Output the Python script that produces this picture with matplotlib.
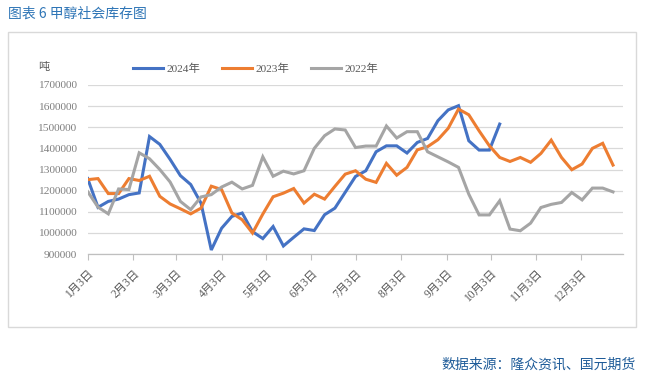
import matplotlib
matplotlib.use("Agg")
import matplotlib.pyplot as plt
from matplotlib.patches import Rectangle
import pandas as pd

# ---- data ----
series_names = ["2024年", "2023年", "2022年"]
v2024 = [1257000, 1121000, 1149000, 1160000, 1181000, 1189000, 1456000, 1419000, 1348000, 1271000,
         1229000, 1141000, 919000, 1022000, 1078000, 1094000, 1006000, 973000, 1030000, 938000,
         979000, 1019000, 1011000, 1086000, 1117000, 1192000, 1267000, 1294000, 1384000, 1412000,
         1412000, 1378000, 1428000, 1447000, 1531000, 1582000, 1602000, 1436000, 1392000, 1392000,
         1515000]
v2023 = [1252000, 1257000, 1186000, 1186000, 1257000, 1248000, 1268000, 1173000, 1137000, 1114000,
         1090000, 1117000, 1221000, 1205000, 1094000, 1062000, 999000, 1089000, 1171000, 1188000,
         1210000, 1141000, 1183000, 1160000, 1220000, 1278000, 1294000, 1254000, 1239000, 1329000,
         1273000, 1310000, 1393000, 1408000, 1441000, 1495000, 1586000, 1559000, 1483000, 1412000,
         1357000, 1338000, 1357000, 1334000, 1376000, 1439000, 1357000, 1299000, 1326000, 1400000,
         1424000, 1321000]
v2022 = [1195000, 1122000, 1090000, 1208000, 1205000, 1379000, 1351000, 1300000, 1241000, 1149000,
         1110000, 1170000, 1181000, 1217000, 1240000, 1208000, 1225000, 1360000, 1268000, 1292000,
         1279000, 1294000, 1400000, 1460000, 1492000, 1487000, 1404000, 1411000, 1411000, 1506000,
         1449000, 1479000, 1479000, 1384000, 1360000, 1336000, 1310000, 1183000, 1085000, 1085000,
         1152000, 1018000, 1010000, 1046000, 1120000, 1135000, 1144000, 1191000, 1156000, 1212000,
         1212000, 1194000]
week_dates = pd.date_range("2024-01-03", periods=52, freq="7D")
tick_dates = pd.date_range("2024-01-01", periods=12, freq="MS") + pd.Timedelta(days=2)
tick_labels = ["1月3日", "2月3日", "3月3日", "4月3日", "5月3日", "6月3日",
               "7月3日", "8月3日", "9月3日", "10月3日", "11月3日", "12月3日"]
y_ticks = [900000, 1000000, 1100000, 1200000, 1300000, 1400000, 1500000, 1600000, 1700000]

colors = ["#4472C4", "#ED7D31", "#A5A5A5"]
serif_cjk = ["Liberation Serif", "Noto Sans CJK SC"]
cjk = ["Noto Sans CJK SC", "DejaVu Sans"]

W, H = 656, 382
fig = plt.figure(figsize=(W / 100, H / 100), dpi=100)

# outer frame
fig.patches.append(Rectangle((8 / W, 1 - 327 / H), (636 - 8) / W, (327 - 32) / H,
                             transform=fig.transFigure, fill=False,
                             edgecolor="#D9D9D9", linewidth=1))

left, right, top, bottom = 87.7, 623.3, 85, 254
ax = fig.add_axes([left / W, 1 - bottom / H, (right - left) / W, (bottom - top) / H])

for vals, c, name in zip([v2024, v2023, v2022], colors, series_names):
    ax.plot(week_dates[:len(vals)], vals, color=c, linewidth=2.2, label=name,
            solid_joinstyle="miter", zorder=3)

ax.set_ylim(900000, 1700000)
ax.set_xlim(pd.Timestamp("2024-01-03"), pd.Timestamp("2025-01-01"))
ax.set_yticks(y_ticks)
ax.set_yticklabels([str(v) for v in y_ticks], family=serif_cjk, fontsize=8.2, color="#7F7F7F")
ax.tick_params(axis="y", length=0, pad=8)
ax.set_xticks(tick_dates)
ax.set_xticklabels(tick_labels, family=serif_cjk, fontsize=8.3, color="#595959",
                   rotation=45, ha="right", va="top", rotation_mode="anchor")
ax.tick_params(axis="x", length=4, color="#BFBFBF", width=0.8, pad=6)
ax.grid(axis="y", color="#D9D9D9", linewidth=0.9)
ax.set_axisbelow(True)
for s in ["top", "right", "left"]:
    ax.spines[s].set_visible(False)
ax.spines["bottom"].set_color("#BFBFBF")
ax.spines["bottom"].set_linewidth(0.9)

leg = fig.legend(loc="center left", bbox_to_anchor=(133 / W, 1 - 69 / H), ncol=3,
                 frameon=False, prop={"family": serif_cjk, "size": 8.2},
                 handlelength=2.6, handletextpad=0.35, columnspacing=1.9,
                 borderaxespad=0, borderpad=0)
for t in leg.get_texts():
    t.set_color("#595959")

fig.text(38 / W, 1 - 67 / H, "吨", family=cjk, fontsize=8, color="#595959", va="center", ha="left")
fig.text(8 / W, 1 - 14 / H, "图表 6 甲醇社会库存图", family=cjk, fontsize=10,
         color="#2E75B6", va="center", ha="left")
fig.text(636 / W, 1 - 365 / H, "数据来源：隆众资讯、国元期货", family=cjk, fontsize=10,
         color="#1F5C99", va="center", ha="right")

fig.savefig("out.png", dpi=100)
